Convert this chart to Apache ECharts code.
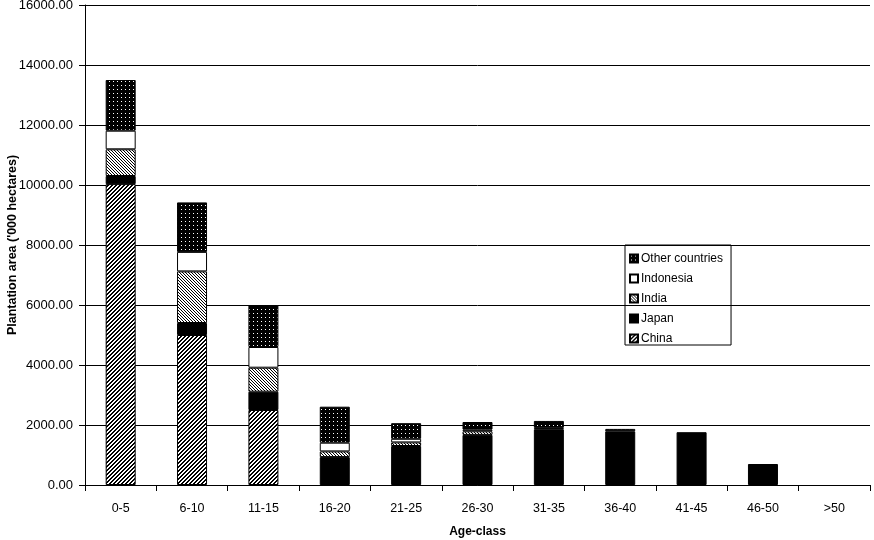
<!DOCTYPE html>
<html>
<head>
<meta charset="utf-8">
<script src="https://cdn.jsdelivr.net/npm/echarts@6/dist/echarts.min.js"></script>
<style>html,body{margin:0;padding:0;background:#fff;}#c{width:874px;height:540px;}</style>
</head>
<body>
<div id="c"></div>
<script>
var categories = ['0-5','6-10','11-15','16-20','21-25','26-30','31-35','36-40','41-45','46-50','>50'];
var china     = [10030, 5000, 2500, null, null, null, null, null, null, null, null];
var japan     = [270, 400, 610, 930, 1300, 1670, 1860, 1790, 1760, 700, null];
var india     = [890, 1720, 800, 190, 120, 120, null, null, null, null, null];
var indonesia = [620, 650, 690, 290, 120, 55, 45, null, null, null, null];
var other     = [1690, 1650, 1400, 1200, 520, 255, 230, 80, null, null, null];
var yTicks = [0, 2000, 4000, 6000, 8000, 10000, 12000, 14000, 16000];

function makePattern(size, fn) {
  var c = document.createElement('canvas');
  c.width = size; c.height = size;
  var ctx = c.getContext('2d');
  for (var y = 0; y < size; y++) {
    for (var x = 0; x < size; x++) {
      ctx.fillStyle = fn(x, y) ? '#000' : '#fff';
      ctx.fillRect(x, y, 1, 1);
    }
  }
  return {image: c, repeat: 'repeat'};
}
var chinaPat = makePattern(4, function (x, y) { return (x + y) % 4 < 2; });
var indiaPat = makePattern(3, function (x, y) { return ((x - y) % 3 + 3) % 3 === 0; });
var otherPat = makePattern(4, function (x, y) { return !(x === 1 && y === 1); });

var font = 'Liberation Sans, Arial, sans-serif';
function mk(name, data, color) {
  return {
    name: name, type: 'bar', stack: 'total', data: data, barWidth: 30,
    itemStyle: {color: color, borderColor: '#000', borderWidth: 1},
    emphasis: {disabled: true}
  };
}

var chart = echarts.init(document.getElementById('c'));
chart.setOption({
  animation: false,
  backgroundColor: '#fff',
  grid: {left: 85, right: 4, top: 5, bottom: 55, outerBoundsMode: 'none', containLabel: false},
  legend: {
    orient: 'vertical', left: 625, top: 245,
    data: ['Other countries', 'Indonesia', 'India', 'Japan', 'China'],
    itemWidth: 8, itemHeight: 8, itemGap: 7,
    borderColor: '#000', borderWidth: 1, padding: [7, 8, 0, 4],
    textStyle: {fontFamily: font, fontSize: 12, color: '#000', lineHeight: 13, padding: [0, 0, 0, -2]},
    icon: 'rect'
  },
  xAxis: {
    type: 'category', data: categories,
    name: 'Age-class', nameLocation: 'middle', nameGap: 41, nameMoveOverlap: false,
    nameTextStyle: {fontFamily: font, fontSize: 12, fontWeight: 'bold', color: '#000'},
    axisLine: {lineStyle: {color: '#000', width: 1}},
    axisTick: {show: true, length: 6, lineStyle: {color: '#000'}, alignWithLabel: false},
    axisLabel: {fontFamily: font, fontSize: 12.5, color: '#000', margin: 17}
  },
  yAxis: {
    type: 'value', min: 0, max: 16000, interval: 2000,
    name: "Plantation area ('000 hectares)", nameLocation: 'middle', nameGap: 66, nameMoveOverlap: false,
    nameTextStyle: {fontFamily: font, fontSize: 12.5, fontWeight: 'bold', color: '#000'},
    axisLine: {show: true, lineStyle: {color: '#000', width: 1}},
    axisTick: {show: true, length: 6, lineStyle: {color: '#000'}},
    axisLabel: {fontFamily: font, fontSize: 13, color: '#000', margin: 12,
      formatter: function (v) { return v.toFixed(2); }},
    splitLine: {show: true, lineStyle: {color: '#000', width: 1}}
  },
  series: [
    mk('China', china, chinaPat),
    mk('Japan', japan, '#000'),
    mk('India', india, indiaPat),
    mk('Indonesia', indonesia, '#fff'),
    mk('Other countries', other, otherPat)
  ]
});
</script>
</body>
</html>
